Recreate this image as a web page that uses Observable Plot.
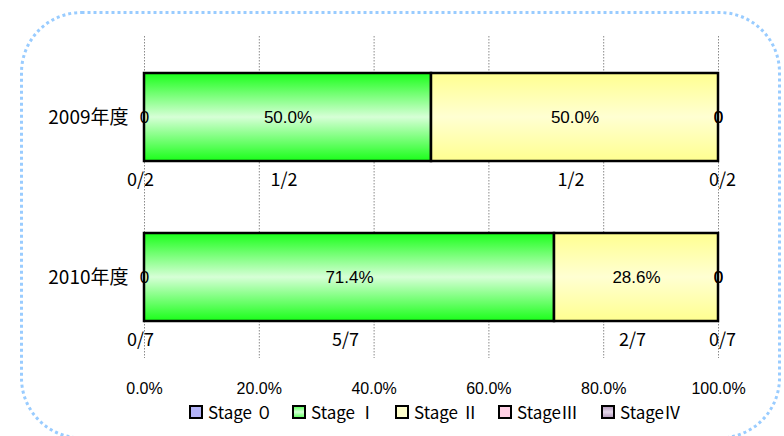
<!DOCTYPE html>
<html>
<head>
<meta charset="utf-8">
<script src="https://cdn.jsdelivr.net/npm/d3@7"></script>
<script src="https://cdn.jsdelivr.net/npm/@observablehq/plot@0.6"></script>
<style>
  html, body { margin: 0; padding: 0; background: #fff; }
  #wrap { position: relative; width: 784px; height: 436px; overflow: hidden; }
  #legend { position: absolute; left: 189px; top: 399px; display: flex; font-family: "Noto Sans CJK JP", sans-serif; font-size: 17px; color: #000; }
  .item { display: flex; align-items: center; width: 103px; white-space: nowrap; }
  .sw { width: 10px; height: 10px; border: 2px solid #000; margin-right: 5px; flex: none; }
  #frame { position: absolute; left: 0; top: 0; pointer-events: none; }
</style>
</head>
<body>
<div id="wrap">
  <svg width="0" height="0" style="position:absolute">
    <defs>
      <linearGradient id="gGreen" x1="0" y1="0" x2="0" y2="1">
        <stop offset="0" stop-color="#1aff1a"/>
        <stop offset="0.5" stop-color="#d6ffd6"/>
        <stop offset="1" stop-color="#1aff1a"/>
      </linearGradient>
      <linearGradient id="gYellow" x1="0" y1="0" x2="0" y2="1">
        <stop offset="0" stop-color="#ffff90"/>
        <stop offset="0.5" stop-color="#ffffd2"/>
        <stop offset="1" stop-color="#ffff90"/>
      </linearGradient>
    </defs>
  </svg>
  <div id="chart"></div>
  <div id="legend"></div>
  <svg id="frame" width="784" height="436">
    <rect x="21.5" y="12.5" width="758" height="425.5" rx="60" ry="60" fill="none" stroke="#99ccff" stroke-width="3" stroke-dasharray="3 3"/>
  </svg>
</div>
<script>
const years = ["2009年度", "2010年度"];
const stageNames = ["Stage ０", "Stage Ⅰ", "Stage Ⅱ", "StageⅢ", "StageⅣ"];
const stage0 = [0, 0];
const stage1 = [1, 5];
const stage2 = [1, 2];
const stage3 = [0, 0];
const stage4 = [0, 0];
const totals = [2, 7];
const xTicks = [0, 0.2, 0.4, 0.6, 0.8, 1];
const stageFills = ["#b4b4f8", "url(#gGreen)", "url(#gYellow)", "#ffd0e4", "#c8b4d0"];
const legendFills = [
  "#b4b4f8",
  "linear-gradient(#66ff66, #d6ffd6, #66ff66)",
  "#ffffcc",
  "#ffd0e4",
  "linear-gradient(#b8a0c0, #e4d8ea, #b8a0c0)"
];

const counts = [stage0, stage1, stage2, stage3, stage4];
const rows = [];
years.forEach((y, i) => {
  let acc = 0;
  counts.forEach((c, s) => {
    const v = c[i] / totals[i];
    rows.push({year: y, stage: s, count: c[i], total: totals[i], x1: acc, x2: acc + v, pct: v});
    acc += v;
  });
});
const mid = d => (d.x1 + d.x2) / 2;

const marks = [
  Plot.ruleX(xTicks, {stroke: "#8a8a8a", strokeWidth: 1, strokeDasharray: "1.5,1.5"})
];
stageFills.forEach((f, s) => {
  marks.push(Plot.barX(rows.filter(d => d.stage === s && d.count > 0), {
    x1: "x1", x2: "x2", y: "year", fill: f, stroke: "#000", strokeWidth: 2.5
  }));
});
marks.push(
  Plot.text(rows.filter(d => d.count > 0), {
    x: mid, y: "year", text: d => (d.pct * 100).toFixed(1) + "%",
    fontSize: 17, fontFamily: "Liberation Sans, Arial, sans-serif", fill: "#000"
  }),
  Plot.text(rows.filter(d => d.count === 0), {
    x: "x1", y: "year", text: d => String(d.count),
    fontSize: 17, fontFamily: "Liberation Sans, Arial, sans-serif", fill: "#000"
  }),
  Plot.text(rows.filter(d => d.stage === 0), {
    x: mid, y: "year", dy: 63, dx: -4, text: d => `${d.count}/${d.total}`,
    fontSize: 18, fontFamily: "Noto Sans CJK JP", fill: "#000"
  }),
  Plot.text(rows.filter(d => d.count > 0), {
    x: mid, y: "year", dy: 63, dx: -4, text: d => `${d.count}/${d.total}`,
    fontSize: 18, fontFamily: "Noto Sans CJK JP", fill: "#000"
  }),
  Plot.text(rows.filter(d => d.stage === 4), {
    x: mid, y: "year", dy: 63, dx: 4, text: d => `${d.count}/${d.total}`,
    fontSize: 18, fontFamily: "Noto Sans CJK JP", fill: "#000"
  }),
  Plot.axisX(xTicks, {
    tickSize: 0, tickPadding: 24, tickFormat: d => (d * 100).toFixed(1) + "%",
    fontSize: 16, fontFamily: "Liberation Sans, Arial, sans-serif", label: null
  }),
  Plot.axisY({
    tickSize: 0, tickPadding: 16, fontSize: 19, fontFamily: "Noto Sans CJK JP", label: null
  })
);

const chart = Plot.plot({
  width: 784,
  height: 400,
  marginLeft: 144,
  marginRight: 66,
  marginTop: 36,
  marginBottom: 42,
  style: {background: "transparent", color: "#000", fontFamily: "Noto Sans CJK JP"},
  x: {domain: [0, 1]},
  y: {domain: years, paddingInner: 0.447, paddingOuter: 0.2236},
  marks
});
document.getElementById("chart").appendChild(chart);

const legend = document.getElementById("legend");
stageNames.forEach((name, i) => {
  const it = document.createElement("div");
  it.className = "item";
  const sw = document.createElement("div");
  sw.className = "sw";
  sw.style.background = legendFills[i];
  const tx = document.createElement("span");
  tx.textContent = name;
  it.appendChild(sw);
  it.appendChild(tx);
  legend.appendChild(it);
});
</script>
</body>
</html>
